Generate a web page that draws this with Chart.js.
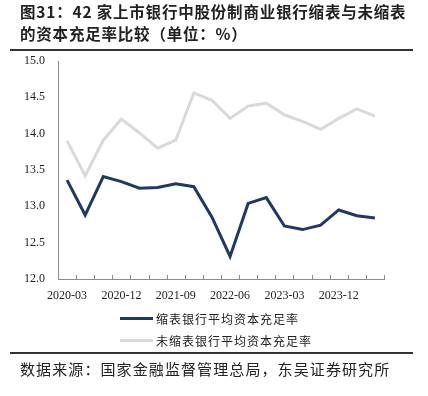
<!DOCTYPE html>
<html>
<head>
<meta charset="utf-8">
<script src="https://cdn.jsdelivr.net/npm/chart.js@4/dist/chart.umd.min.js"></script>
<style>
  html, body { margin: 0; padding: 0; background: #fff; }
  body { width: 428px; height: 396px; position: relative; overflow: hidden; }
  #wrap { position: absolute; left: 0; top: 0; width: 428px; height: 396px; }
  .title { position: absolute; left: 20px; font-family: "Noto Sans CJK SC", sans-serif; font-weight: bold; font-size: 15.5px; color: #222; white-space: nowrap; letter-spacing: 0.8px; }
  .rule { position: absolute; left: 10px; width: 403px; height: 2px; background: #333; }
  #legend { position: absolute; left: 120px; top: 307px; font-family: "Noto Sans CJK SC", sans-serif; font-size: 12px; color: #222; }
  #legend .row { height: 22px; display: flex; align-items: center; white-space: nowrap; letter-spacing: 1px; }
  #legend .sw { width: 33px; height: 3px; margin-right: 3px; }
  .foot { position: absolute; left: 20px; top: 358px; font-family: "Noto Sans CJK SC", sans-serif; font-size: 15px; color: #222; letter-spacing: 1.1px; white-space: nowrap; }
</style>
</head>
<body>
<div id="wrap"><canvas id="c" width="428" height="396"></canvas></div>
<div class="title" style="top:0px;">图31：42 家上市银行中股份制商业银行缩表与未缩表</div>
<div class="title" style="top:22px;">的资本充足率比较（单位：%）</div>
<div class="rule" style="top:49px;"></div>
<div id="legend"></div>
<div class="rule" style="top:352px;"></div>
<div class="foot">数据来源：国家金融监督管理总局，东吴证券研究所</div>
<script>
const categories = ["2020-03","2020-06","2020-09","2020-12","2021-03","2021-06","2021-09","2021-12","2022-03","2022-06","2022-09","2022-12","2023-03","2023-06","2023-09","2023-12","2024-03","2024-06"];
const shrinkBanks = [13.36,12.88,13.41,13.34,13.25,13.26,13.31,13.27,12.85,12.31,13.04,13.12,12.73,12.68,12.74,12.95,12.87,12.84];
const nonShrinkBanks = [13.90,13.42,13.91,14.20,14.01,13.80,13.91,14.56,14.46,14.21,14.38,14.42,14.26,14.17,14.06,14.21,14.34,14.24];
const seriesNames = ["缩表银行平均资本充足率","未缩表银行平均资本充足率"];
const yTicks = [12.0,12.5,13.0,13.5,14.0,14.5,15.0];
const seriesColors = ["#1f3864","#d9d9d9"];

const innerTicks = {
  id: 'innerTicks',
  afterDatasetsDraw(chart) {
    const x = chart.scales.x, ctx = chart.ctx;
    const bottom = chart.chartArea.bottom;
    const step = x.getPixelForValue(1) - x.getPixelForValue(0);
    ctx.save();
    ctx.strokeStyle = '#8c8c8c';
    ctx.lineWidth = 1;
    for (let i = 0; i <= categories.length; i++) {
      const px = Math.round(x.getPixelForValue(i) - step / 2) + 0.5;
      ctx.beginPath();
      ctx.moveTo(px, bottom);
      ctx.lineTo(px, bottom - 4);
      ctx.stroke();
    }
    ctx.restore();
  }
};

const chart = new Chart(document.getElementById('c'), {
  type: 'line',
  data: {
    labels: categories,
    datasets: [
      { label: seriesNames[0], data: shrinkBanks, borderColor: seriesColors[0], backgroundColor: seriesColors[0], borderWidth: 3, pointRadius: 0, tension: 0 },
      { label: seriesNames[1], data: nonShrinkBanks, borderColor: seriesColors[1], backgroundColor: seriesColors[1], borderWidth: 3, pointRadius: 0, tension: 0 }
    ]
  },
  options: {
    responsive: false,
    animation: false,
    devicePixelRatio: 1,
    layout: { padding: { left: 10, right: 44, top: 61, bottom: 92 } },
    plugins: { legend: { display: false }, tooltip: { enabled: false }, title: { display: false } },
    scales: {
      x: {
        offset: true,
        grid: { display: false, drawTicks: false },
        border: { display: true, color: '#8c8c8c', width: 1 },
        ticks: {
          autoSkip: false, maxRotation: 0, padding: 10,
          font: { family: '"Liberation Serif", "Times New Roman", serif', size: 12 },
          color: '#222',
          callback: (v, i) => (i % 3 === 0 ? categories[i] : '')
        },
        afterFit(s) { s.height = 25; }
      },
      y: {
        min: 12, max: 15,
        grid: { display: false, drawTicks: false },
        border: { display: true, color: '#8c8c8c', width: 1 },
        afterBuildTicks(s) { s.ticks = yTicks.map(v => ({ value: v })); },
        ticks: {
          padding: 13,
          font: { family: '"Liberation Serif", "Times New Roman", serif', size: 12 },
          color: '#222',
          callback: v => Number(v).toFixed(1)
        },
        afterFit(s) { s.width = 48; }
      }
    }
  },
  plugins: [innerTicks]
});

const lg = document.getElementById('legend');
chart.data.datasets.forEach(ds => {
  const row = document.createElement('div');
  row.className = 'row';
  const sw = document.createElement('span');
  sw.className = 'sw';
  sw.style.background = ds.borderColor;
  row.appendChild(sw);
  row.appendChild(document.createTextNode(ds.label));
  lg.appendChild(row);
});
</script>
</body>
</html>
